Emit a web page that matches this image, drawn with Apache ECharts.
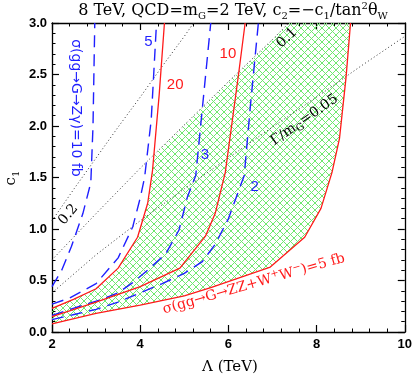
<!DOCTYPE html>
<html><head><meta charset="utf-8">
<script src="https://cdn.jsdelivr.net/npm/echarts@6/dist/echarts.min.js"></script>
<style>html,body{margin:0;padding:0;background:#fff}#c{width:415px;height:377px}</style>
</head><body><div id="c"></div>
<script>
// ---- data ----
const xTicks = [2, 4, 6, 8, 10];
const yTicks = [0.0, 0.5, 1.0, 1.5, 2.0, 2.5, 3.0];

// sigma(gg->G->ZZ+WW) contours (red, solid)
const zz20 = [[2,0.23],[2.5,0.32],[3,0.42],[3.5,0.62],[3.94,0.92],[4.17,1.25],[4.28,1.57],[4.43,2.3],[4.55,3.0]];
const zz10 = [[2,0.15],[3,0.29],[4,0.44],[4.9,0.62],[5.48,0.93],[5.7,1.15],[5.93,1.55],[6.23,2.5],[6.38,3.0]];
const zz5  = [[2,0.08],[3,0.18],[4,0.26],[5,0.35],[5.6,0.43],[6.95,0.63],[7.73,0.92],[8.1,1.2],[8.35,1.55],[8.52,1.88],[8.67,2.48],[8.77,3.0]];

// sigma(gg->G->Z gamma) contours (blue, dashed)
const za10 = [[2,0.44],[2.22,0.6],[2.44,0.83],[2.7,1.15],[2.88,1.45],[2.93,2.0],[2.97,3.0]];
const za5  = [[2,0.27],[2.4,0.33],[3,0.47],[3.5,0.72],[3.83,1.02],[4.0,1.3],[4.1,1.5],[4.25,2.06],[4.37,3.0]];
const za3  = [[2,0.16],[2.48,0.23],[3.08,0.31],[3.5,0.38],[3.83,0.48],[4.17,0.6],[4.58,0.76],[4.88,0.99],[5.07,1.31],[5.26,1.52],[5.6,3.0]];
const za2  = [[2,0.12],[2.5,0.17],[3,0.22],[3.5,0.29],[4,0.38],[4.5,0.47],[5,0.57],[5.4,0.68],[5.7,0.85],[6.0,1.1],[6.36,1.52],[6.5,2.2],[6.68,3.0]];

// Gamma/m_G contours (black, dotted)
const w02  = [[2,1.08],[2.5,1.39],[3,1.69],[3.5,1.99],[4,2.28],[4.5,2.58],[5,2.87],[5.21,3.0]];
const w01  = [[2,0.70],[3,1.15],[4,1.59],[5,2.01],[6,2.43],[7,2.84],[7.37,3.0]];
const w005 = [[2,0.38],[3,0.75],[4,1.08],[5,1.39],[6,1.69],[7,1.99],[8,2.28],[9,2.58],[10,2.87]];

// ---- chart ----
const chart = echarts.init(document.getElementById('c'), null, {renderer: 'canvas'});

function segIntersect(a, b, c, d) {
  const r = [b[0]-a[0], b[1]-a[1]], s = [d[0]-c[0], d[1]-c[1]];
  const den = r[0]*s[1] - r[1]*s[0];
  if (Math.abs(den) < 1e-12) return null;
  const t = ((c[0]-a[0])*s[1] - (c[1]-a[1])*s[0]) / den;
  const u = ((c[0]-a[0])*r[1] - (c[1]-a[1])*r[0]) / den;
  if (t >= 0 && t <= 1 && u >= 0 && u <= 1) return [a[0]+t*r[0], a[1]+t*r[1]];
  return null;
}
// green region: between 20 fb and 5 fb contours, below the Gamma/m = 0.1 line
function buildRegion() {
  let hit = null;
  for (let i = 0; i < zz20.length-1 && !hit; i++) {
    for (let j = 0; j < w01.length-1 && !hit; j++) {
      const p = segIntersect(zz20[i], zz20[i+1], w01[j], w01[j+1]);
      if (p) hit = {p, i, j};
    }
  }
  const pts = [];
  for (let i = 0; i <= hit.i; i++) pts.push(zz20[i]);
  pts.push(hit.p);
  for (let j = hit.j+1; j < w01.length; j++) pts.push(w01[j]);
  for (let k = zz5.length-1; k >= 0; k--) pts.push(zz5[k]);
  return pts;
}
const region = buildRegion();

const hatch = document.createElement('canvas');
hatch.width = 7; hatch.height = 7;
(function(){
  const g = hatch.getContext('2d');
  g.strokeStyle = '#6fe86f'; g.lineWidth = 1;
  g.beginPath();
  g.moveTo(0,0); g.lineTo(7,7);
  g.moveTo(7,0); g.lineTo(0,7);
  g.stroke();
})();

const RED = '#ff1a1a', BLUE = '#1f1fff';
function lineSeries(data, color, type, width, z) {
  return {type: 'line', data, showSymbol: false, symbol: 'none', silent: true, z: z,
    lineStyle: {color, width, type}, animation: false};
}

const axisCommon = {
  type: 'value', splitLine: {show: false},
  axisLine: {show: true, onZero: false, lineStyle: {color: '#000', width: 1.3}},
  axisTick: {show: true, inside: true, length: 7, lineStyle: {color: '#000', width: 1.2}},
  minorTick: {show: true, splitNumber: 5, length: 3.5, lineStyle: {color: '#000', width: 1}},
  minorSplitLine: {show: false}
};
const labelFont = {fontFamily: 'Liberation Sans', fontWeight: 'bold', fontSize: 13, color: '#000'};

const xMin = xTicks[0], xMax = xTicks[xTicks.length-1], xInt = xTicks[1]-xTicks[0];
const yMin = yTicks[0], yMax = yTicks[yTicks.length-1], yInt = yTicks[1]-yTicks[0];

chart.setOption({
  animation: false,
  grid: {left: 52, right: 8, top: 23, bottom: 45},
  xAxis: [
    Object.assign({}, axisCommon, {position: 'bottom', min: xMin, max: xMax, interval: xInt,
      axisLabel: Object.assign({margin: 6}, labelFont)}),
    Object.assign({}, axisCommon, {position: 'top', min: xMin, max: xMax, interval: xInt, axisLabel: {show: false}})
  ],
  yAxis: [
    Object.assign({}, axisCommon, {position: 'left', min: yMin, max: yMax, interval: yInt,
      axisLabel: Object.assign({margin: 5, formatter: v => v.toFixed(1)}, labelFont)}),
    Object.assign({}, axisCommon, {position: 'right', min: yMin, max: yMax, interval: yInt, axisLabel: {show: false}})
  ],
  series: [
    {type: 'custom', data: [[xMin, yMin]], silent: true, z: 1, clip: true,
      renderItem: (params, api) => ({
        type: 'polygon',
        shape: {points: region.map(p => api.coord(p))},
        style: {fill: {image: hatch, repeat: 'repeat'}, stroke: null}
      })},
    lineSeries(w02, '#333', [1, 2.5], 1, 2),
    lineSeries(w01, '#333', [1, 2.5], 1, 2),
    lineSeries(w005, '#333', [1, 2.5], 1, 2),
    lineSeries(za10, BLUE, [12, 7], 1.4, 3),
    lineSeries(za5, BLUE, [12, 7], 1.4, 3),
    lineSeries(za3, BLUE, [12, 7], 1.4, 3),
    lineSeries(za2, BLUE, [12, 7], 1.4, 3),
    lineSeries(zz20, RED, 'solid', 1.3, 4),
    lineSeries(zz10, RED, 'solid', 1.3, 4),
    lineSeries(zz5, RED, 'solid', 1.3, 4)
  ]
});

// ---- annotations (anchored in data coordinates) ----
const SERIF = 'DejaVu Serif';
const SANS = 'Liberation Sans';
const SANS2 = 'DejaVu Sans';
const subRich = (size, color, fam) => ({
  s: {fontSize: size, fontFamily: fam, fill: color, verticalAlign: 'bottom', lineHeight: size},
  p: {fontSize: size, fontFamily: fam, fill: color, verticalAlign: 'top', lineHeight: size}
});
const annotations = [
  {at: [4.186, 2.816], text: '5', color: BLUE, font: SANS, size: 15, rot: 0},
  {at: [4.794, 2.398], text: '20', color: RED, font: SANS, size: 15, rot: 0},
  {at: [5.989, 2.699], text: '10', color: RED, font: SANS, size: 15, rot: 0},
  {at: [5.47, 1.718], text: '3', color: BLUE, font: SANS, size: 15, rot: 0},
  {at: [6.597, 1.408], text: '2', color: BLUE, font: SANS, size: 15, rot: 0},
  {at: [7.33, 2.855], text: '0.1', color: '#000', font: SERIF, size: 14, rot: 43},
  {at: [2.37, 1.14], text: '0.2', color: '#000', font: SERIF, size: 14, rot: 50},
  {at: [7.724, 2.058], text: 'Γ/m{s|G}=0.05', color: '#000', font: SERIF, size: 14, rot: 35},
  {at: [6.575, 0.466], text: 'σ(gg→G→ZZ+W{p|+}W{p|−})=5 fb', color: RED, font: SERIF, size: 14, rot: 16},
  {at: [2.541, 2.175], text: 'σ(gg→G→Zγ)=10 fb', color: BLUE, font: SANS2, size: 14, rot: -90}
];
const graphics = annotations.map(a => {
  const px = chart.convertToPixel({xAxisIndex: 0, yAxisIndex: 0}, a.at);
  return {type: 'text', x: px[0], y: px[1], rotation: a.rot * Math.PI / 180, z: 10, silent: true,
    style: {text: a.text, x: 0, y: 0, align: 'center', verticalAlign: 'middle', fill: a.color,
      font: a.size + 'px "' + a.font + '"', lineHeight: a.size + 4, rich: subRich(Math.round(a.size*0.7), a.color, a.font)}};
});
graphics.push(
  {type: 'text', x: 233, y: 11, z: 10, silent: true,
    style: {text: '8 TeV, QCD=m{s|G}=2 TeV, c{s|2}=−c{s|1}/tan{p|2}θ{s|W}', x: 0, y: 0, align: 'center', verticalAlign: 'middle',
      fill: '#000', font: '16px "' + SERIF + '"', lineHeight: 20, rich: subRich(10, '#000', SERIF)}},
  {type: 'text', x: 230, y: 367, z: 10, silent: true,
    style: {text: 'Λ (TeV)', x: 0, y: 0, align: 'center', verticalAlign: 'middle', fill: '#000', font: '15px "' + SERIF + '"'}},
  {type: 'text', x: 11, y: 178, rotation: Math.PI/2, z: 10, silent: true,
    style: {text: 'c{s|1}', x: 0, y: 0, align: 'center', verticalAlign: 'middle', fill: '#000',
      font: '15px "' + SERIF + '"', lineHeight: 20, rich: subRich(10, '#000', SERIF)}}
);
chart.setOption({graphic: graphics});
</script>
</body></html>
